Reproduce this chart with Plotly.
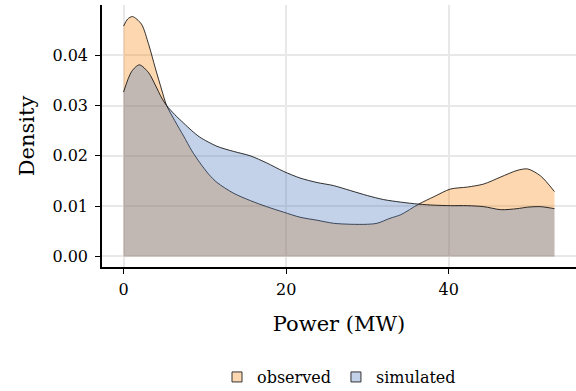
import plotly.graph_objects as go

# Observed density
obs_x = [0, 0.5, 1.1, 2.2, 3.1, 3.9, 4.7, 5.3, 6.3, 7.4, 8.4, 9.4, 10.5, 11.5, 13.5, 15.6,
         17.6, 19.7, 21.7, 23.8, 25.8, 27.9, 30.0, 31.2, 32.8, 34.1, 36.3, 38.2, 40.2,
         42.3, 44.3, 46.4, 48.4, 49.7, 51.3, 53.0]
obs_y = [0.0458, 0.0472, 0.0477, 0.0462, 0.0421, 0.0375, 0.0331, 0.0300, 0.0270, 0.0239,
         0.0210, 0.0186, 0.0163, 0.0147, 0.0126, 0.0111, 0.0099, 0.0088, 0.0078, 0.0072,
         0.0066, 0.0064, 0.0064, 0.0066, 0.0076, 0.0083, 0.0104, 0.0119, 0.0134, 0.0138,
         0.0144, 0.0158, 0.0171, 0.0174, 0.0160, 0.0129]

# Simulated density
sim_x = [0, 1.0, 1.95, 3.1, 3.9, 4.7, 5.3, 6.3, 7.4, 8.4, 9.4, 11.5, 13.5, 15.6, 17.6, 19.7,
         21.7, 23.8, 25.8, 27.9, 30.0, 32.0, 34.1, 36.3, 38.2, 40.2, 42.3, 44.3, 46.4,
         48.4, 49.7, 51.3, 53.0]
sim_y = [0.0327, 0.0368, 0.0381, 0.0365, 0.0341, 0.0315, 0.0300, 0.0282, 0.0265, 0.0250,
         0.0237, 0.0219, 0.0209, 0.0200, 0.0186, 0.0169, 0.0156, 0.0147, 0.0141, 0.0131,
         0.0121, 0.0113, 0.0108, 0.0104, 0.0102, 0.0101, 0.0101, 0.0099, 0.0093, 0.0095,
         0.0098, 0.0099, 0.0095]

series_names = ["observed", "simulated"]
x_ticks = [0, 20, 40]
y_ticks = [0.00, 0.01, 0.02, 0.03, 0.04]

FONT = "DejaVu Serif"
fills = ["rgba(249,134,16,0.33)", "rgba(73,119,185,0.33)"]
key_colors = ["#FDD7B0", "#C3D2E8"]

fig = go.Figure()
for xs, ys, name, fc in [(obs_x, obs_y, series_names[0], fills[0]),
                         (sim_x, sim_y, series_names[1], fills[1])]:
    fig.add_trace(go.Scatter(
        x=xs, y=ys, name=name, mode="lines", showlegend=False,
        line=dict(color="black", width=0.8, shape="spline", smoothing=0.8),
        fill="tozeroy", fillcolor=fc,
    ))

# legend keys (no data)
for name, kc in zip(series_names, key_colors):
    fig.add_trace(go.Scatter(
        x=[None], y=[None], name=name, mode="markers",
        marker=dict(symbol="square", size=10, color=kc,
                    line=dict(color="#333333", width=1)),
    ))

axis_common = dict(
    showline=True, linecolor="black", linewidth=1.6,
    ticks="outside", ticklen=5, tickwidth=1, tickcolor="black",
    showgrid=True, gridcolor="#E8E8E8", gridwidth=1.5, zeroline=False,
    tickfont=dict(family=FONT, size=16, color="black"),
    automargin=False,
)

fig.update_layout(
    width=576, height=391,
    margin=dict(l=102, r=0, t=5, b=124, autoexpand=False),
    paper_bgcolor="white", plot_bgcolor="white",
    font=dict(family=FONT, color="black"),
    xaxis=dict(range=[-2.65, 55.65], tickvals=x_ticks,
               title=dict(text="Power (MW)", font=dict(family=FONT, size=21), standoff=18),
               ticklabelstandoff=2, **axis_common),
    yaxis=dict(range=[-0.0021, 0.0500], tickvals=y_ticks, tickformat=".2f",
               title=dict(text="Density", font=dict(family=FONT, size=21), standoff=12),
               ticklabelstandoff=4, **axis_common),
    legend=dict(orientation="h", x=0.50, xanchor="center", y=-0.42, yanchor="middle",
                font=dict(family=FONT, size=16), itemwidth=30),
    showlegend=True,
)

fig.write_html("out.html")
